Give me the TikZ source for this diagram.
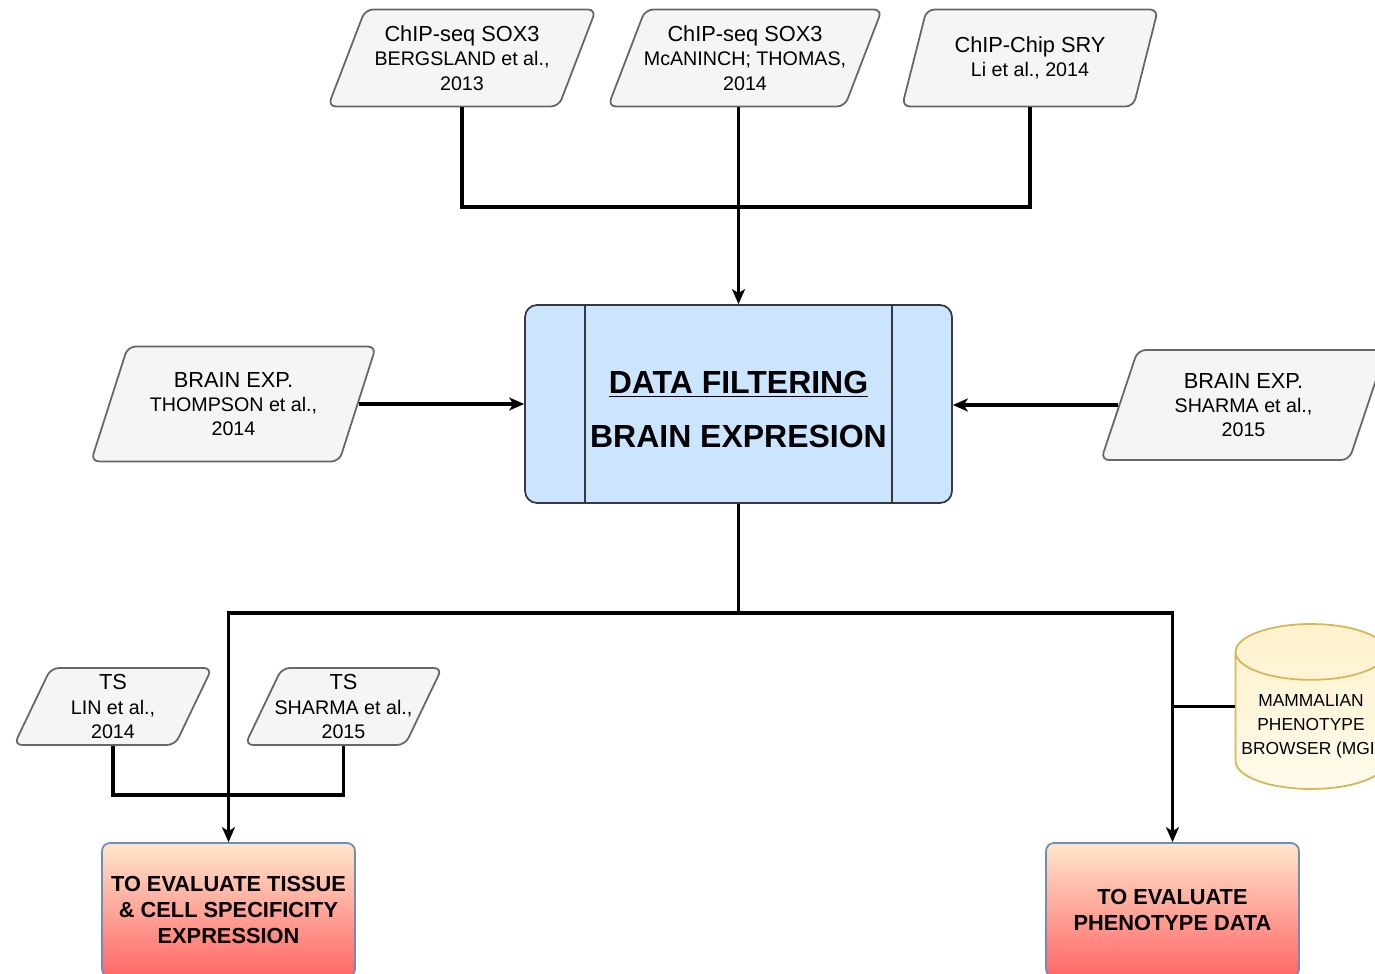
\documentclass[tikz,border=0pt]{standalone}
\usepackage{fontspec}
\setmainfont{Liberation Sans}
\usetikzlibrary{arrows.meta}
\usetikzlibrary{shapes.geometric}
\usetikzlibrary{shapes.symbols}

\definecolor{paperfill}{HTML}{F5F5F5}
\definecolor{paperline}{HTML}{666666}
\definecolor{filterfill}{HTML}{CCE5FF}
\definecolor{filterline}{HTML}{36393D}
\definecolor{goaltop}{HTML}{FFE6CC}
\definecolor{goalbot}{HTML}{FF6666}
\definecolor{goalline}{HTML}{6C8EBF}
\definecolor{dbfill}{HTML}{FFF2CC}
\definecolor{dbline}{HTML}{D6B656}

\tikzset{
  source/.style={trapezium, trapezium left angle=60, trapezium right angle=120,
    trapezium stretches body, draw=paperline, fill=paperfill, line width=1pt,
    rounded corners=0.16cm, inner xsep=-1cm, inner ysep=0pt, align=center,
    font=\fontsize{11.2}{13.8}\selectfont},
  goal/.style={rectangle, draw=goalline, top color=goaltop, bottom color=goalbot,
    line width=1pt, rounded corners=0.16cm, minimum width=5.06cm, minimum height=2.68cm,
    align=center, font=\bfseries\fontsize{12.4}{14.8}\selectfont},
  link/.style={line width=1.8pt},
  flow/.style={link, -{Stealth[length=0.3cm, width=0.26cm, inset=0.08cm]}}
}
\newcommand{\bigline}[1]{{\fontsize{12.4}{14}\selectfont #1}}

\begin{document}
\begin{tikzpicture}[x=0.02cm, y=-0.02cm]
    \useasboundingbox (0,0) rectangle (1375,973);

    % sources on top
    \node[source, minimum width=5.36cm, minimum height=1.94cm] (p1) at (462,58)
        {\bigline{ChIP-seq SOX3}\\BERGSLAND et al.,\\2013};
    \node[source, minimum width=5.48cm, minimum height=1.94cm] (p2) at (745,58)
        {\bigline{ChIP-seq SOX3}\\McANINCH; THOMAS,\\2014};
    \node[source, minimum width=5.12cm, minimum height=1.94cm] (p3) at (1030,58)
        {\bigline{ChIP-Chip SRY}\\Li et al., 2014};

    % filtering step
    \node[rectangle, draw=filterline, fill=filterfill, line width=1pt, rounded corners=0.24cm,
          minimum width=8.54cm, minimum height=3.96cm, align=center,
          font=\bfseries\fontsize{18.2}{21.8}\selectfont] (filter) at (738.5,404)
        {\rule{0pt}{19pt}\underline{DATA FILTERING}\\[8.5pt]BRAIN EXPRESION};
    \draw[draw=filterline, line width=1pt] ([xshift=1.22cm]filter.north west) -- ([xshift=1.22cm]filter.south west);
    \draw[draw=filterline, line width=1pt] ([xshift=-1.22cm]filter.north east) -- ([xshift=-1.22cm]filter.south east);

    \node[source, minimum width=5.7cm, minimum height=2.3cm] (p4) at (233.5,404)
        {\bigline{BRAIN EXP.}\\THOMPSON et al.,\\2014};
    \node[source, minimum width=5.7cm, minimum height=2.2cm] (p5) at (1243.5,405)
        {\bigline{BRAIN EXP.}\\SHARMA et al.,\\2015};

    % tissue sources
    \node[source, minimum width=3.96cm, minimum height=1.54cm] (ts1) at (113,706.5)
        {\bigline{TS}\\LIN et al.,\\2014};
    \node[source, minimum width=3.94cm, minimum height=1.54cm] (ts2) at (343.5,706.5)
        {\bigline{TS}\\SHARMA et al.,\\2015};

    \node[cylinder, shape border rotate=90, aspect=0.37, draw=dbline, line width=1pt,
          top color=dbfill, bottom color=white!60!dbfill,
          minimum width=2.96cm, minimum height=3.3cm, align=center, anchor=shape center,
          font=\fontsize{9.9}{13.6}\selectfont] (mgi) at (1311,706.5)
        {MAMMALIAN\\PHENOTYPE\\BROWSER (MGI)};

    % goals
    \node[goal] (tissue) at (228.5,910) {TO EVALUATE TISSUE\\\& CELL SPECIFICITY\\EXPRESSION};
    \node[goal] (pheno) at (1172.5,910) {TO EVALUATE\\PHENOTYPE DATA};

    % connectors
    \coordinate (topjoin) at (738.5,207);
    \draw[link] (p1.south) |- (topjoin) -| (p3.south);
    \draw[flow] (p2.south -| filter.north) -- (filter.north);
    \draw[flow] (p4.east) -- (p4.east -| filter.west);
    \draw[flow] (p5.west) -- (p5.west -| filter.east);

    \coordinate (split) at (738.5,613);
    \draw[link] (filter.south) -- (split);
    \draw[flow] (split) -| (tissue.north);
    \draw[flow] (split) -| (pheno.north);

    \coordinate (tsjoin) at (228.5,795);
    \draw[link] (ts1.south) |- (tsjoin) -| (ts2.south);
    \draw[link] (mgi.west |- mgi.shape center) -- (mgi.shape center -| pheno.north);
\end{tikzpicture}
\end{document}
